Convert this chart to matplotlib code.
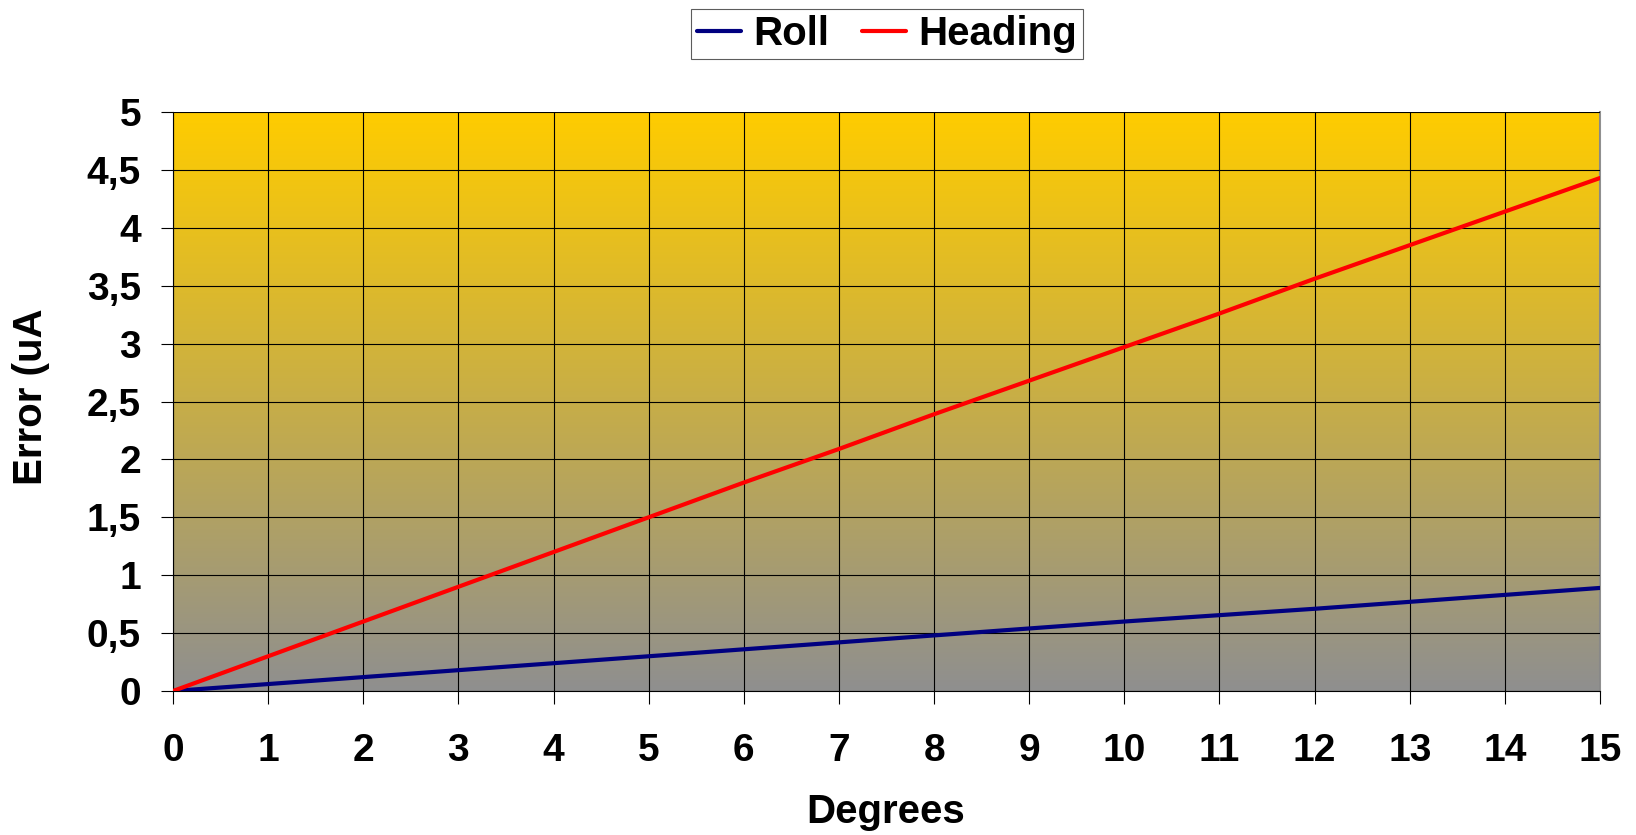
import numpy as np
import matplotlib
matplotlib.use("Agg")
import matplotlib.pyplot as plt
from matplotlib.colors import LinearSegmentedColormap

degrees = list(range(16))
roll = [0, 0.06, 0.12, 0.18, 0.24, 0.30, 0.36, 0.42, 0.48, 0.54, 0.60, 0.655, 0.71, 0.77, 0.83, 0.89]
heading = [0, 0.30, 0.60, 0.90, 1.20, 1.50, 1.80, 2.09, 2.39, 2.68, 2.97, 3.26, 3.56, 3.85, 4.14, 4.43]
yticks = [0, 0.5, 1, 1.5, 2, 2.5, 3, 3.5, 4, 4.5, 5]
ylabels = ["0", "0,5", "1", "1,5", "2", "2,5", "3", "3,5", "4", "4,5", "5"]

plt.rcParams['font.family'] = ['Liberation Sans', 'DejaVu Sans']
plt.rcParams['font.weight'] = 'bold'

fig = plt.figure(figsize=(16.36, 8.35), dpi=100)
ax = fig.add_axes([173/1636, 1-691/835, (1600-173)/1636, (691-112)/835])

# background gradient: gold at top -> grey at bottom
cmap = LinearSegmentedColormap.from_list('bg', ['#8f8f8f', '#ffcc00'])
grad = np.linspace(0, 1, 256).reshape(-1, 1)
ax.imshow(grad, cmap=cmap, origin='lower', aspect='auto',
          extent=[0, 15, 0, 5], zorder=0)

ax.plot(degrees, roll, color='#000080', lw=3, label='Roll', zorder=3, solid_capstyle='round')
ax.plot(degrees, heading, color='#ff0000', lw=3, label='Heading', zorder=3, solid_capstyle='round')

ax.set_xlim(0, 15)
ax.set_ylim(0, 5)
ax.set_xticks(degrees)
ax.set_yticks(yticks)
ax.set_yticklabels(ylabels)
ax.grid(True, color='black', lw=0.8, zorder=1)
ax.set_axisbelow(False)
ax.spines['top'].set_visible(False)
ax.spines['right'].set_color('#909090')
ax.spines['right'].set_linewidth(1.5)
ax.spines['left'].set_color('black')
ax.spines['bottom'].set_color('black')
ax.tick_params(axis='x', length=9, width=0.8, pad=21, labelsize=28)
ax.tick_params(axis='y', length=9, width=0.8, pad=14, labelsize=28)
for t in ax.get_xticklabels() + ax.get_yticklabels():
    t.set_fontweight('bold')

fig.text(886/1636, 1-812/835, 'Degrees', ha='center', va='center', fontsize=29, fontweight='bold')
fig.text(31/1636, 1-397/835, 'Error (uA', ha='center', va='center', rotation=90, fontsize=29, fontweight='bold')

leg = fig.legend(loc='center', bbox_to_anchor=(887/1636, 1-34/835), ncol=2, frameon=True,
                 fancybox=False, edgecolor='#333333', prop={'size': 29, 'weight': 'bold'},
                 handlelength=1.1, handletextpad=0.3, columnspacing=0.8, borderpad=0.15,
                 borderaxespad=0)
leg.get_frame().set_linewidth(0.8)

fig.savefig('out.png', dpi=100)
